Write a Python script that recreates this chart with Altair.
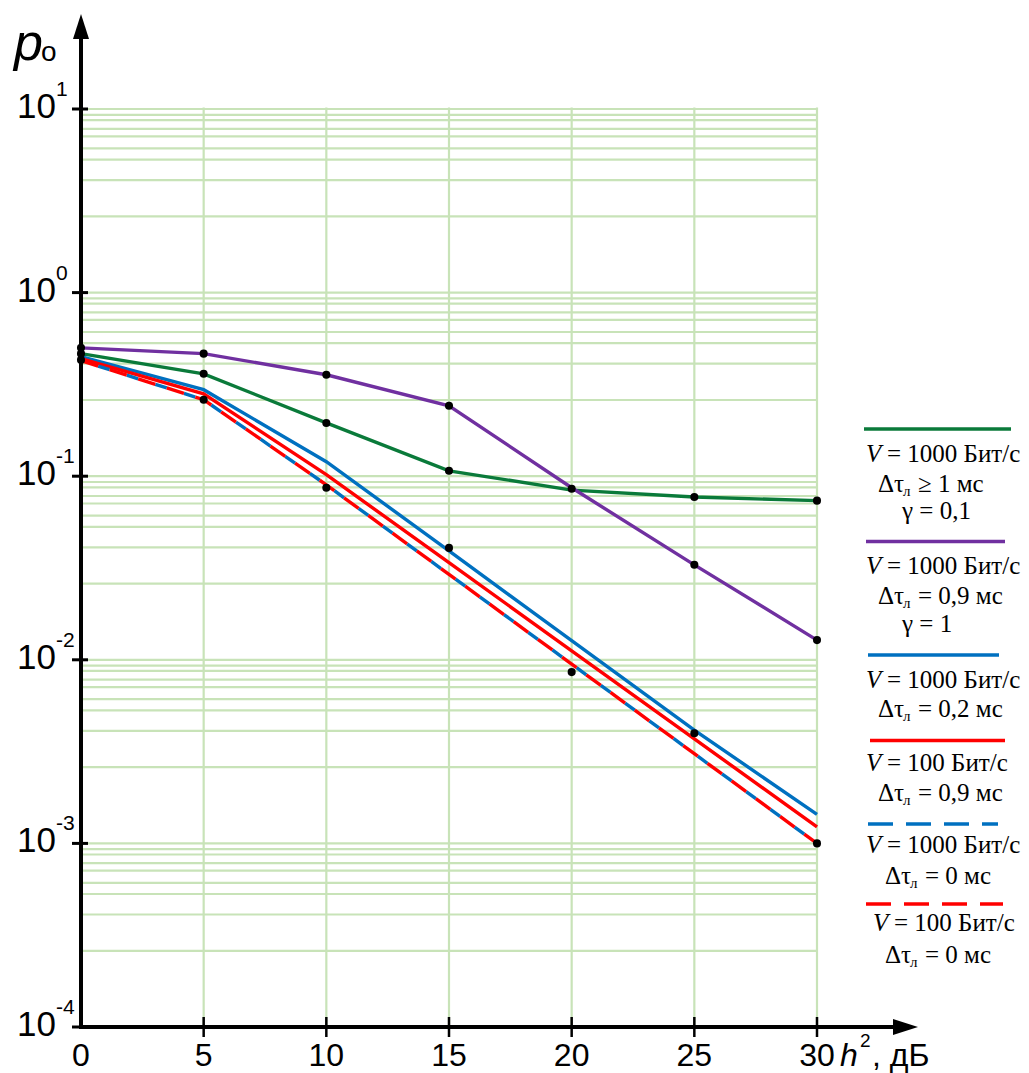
import altair as alt
import pandas as pd

# ---------------- data ----------------
h2 = [0, 5, 10, 15, 20, 25, 30]
green = [0.465, 0.361, 0.195, 0.107, 0.084, 0.077, 0.0736]
purple = [0.50, 0.465, 0.357, 0.242, 0.0865, 0.0329, 0.0128]
blue = [0.448, 0.296, 0.120, 0.0392, 0.0127, 0.00414, 0.00144]
red = [0.437, 0.281, 0.102, 0.0338, 0.0112, 0.00371, 0.00123]
blue_dash = [0.426, 0.261, 0.0897, 0.0292, 0.00948, 0.00308, 0.001]
red_dash = [0.426, 0.261, 0.0897, 0.0292, 0.00948, 0.00308, 0.001]

pts_x = [0, 0, 0, 5, 5, 5, 10, 10, 10, 15, 15, 15, 20, 20, 25, 25, 25, 30, 30, 30]
pts_y = [0.50, 0.465, 0.43, 0.465, 0.361, 0.261, 0.357, 0.195, 0.0865,
         0.242, 0.107, 0.0407, 0.0855, 0.00857, 0.077, 0.0329, 0.00398,
         0.0736, 0.0128, 0.001]

x_ticks = [0, 5, 10, 15, 20, 25, 30]
x_tick_labels = ["0", "5", "10", "15", "20", "25", "30"]
y_decades = [1e-4, 1e-3, 1e-2, 1e-1, 1e0, 1e1]
y_exponents = ["-4", "-3", "-2", "-1", "0", "1"]
grid_mult = [0.93, 0.87, 0.78, 0.71, 0.61, 0.53, 0.41, 0.26]

# ---------------- layout ----------------
OX, OY = 81, 109          # page position of plot origin
W, H = 736, 918
GRID = "#c8e3b8"
SANS = "Liberation Sans Narrow, Liberation Sans, sans-serif"
SERIF = "Liberation Serif, Times New Roman, serif"

xs = alt.Scale(domain=[0, 30], nice=False, zero=False)
ys = alt.Scale(type="log", domain=[1e-4, 10], nice=False)

def X(f="x"):
    return alt.X(f"{f}:Q", scale=xs, axis=None)

def Y(f="y"):
    return alt.Y(f"{f}:Q", scale=ys, axis=None)

one = pd.DataFrame({"a": [0]})

def txt(text, px, py, size, font=SANS, style="normal", align="left", color="black"):
    return alt.Chart(one).mark_text(
        text=text, font=font, fontSize=size, fontStyle=style, align=align,
        baseline="alphabetic", color=color
    ).encode(x=alt.value(px - OX), y=alt.value(py - OY))

layers = []

# grid
hgrid_vals = []
for d in y_decades[1:]:
    hgrid_vals += [d * m for m in grid_mult]
hgrid_vals += y_decades[1:]
hg = pd.DataFrame({"y": hgrid_vals, "x": 0, "x2": 30})
layers.append(alt.Chart(hg).mark_rule(color=GRID, strokeWidth=2.2).encode(
    x=X("x"), x2="x2:Q", y=Y("y")))
vg = pd.DataFrame({"x": x_ticks[1:], "y": 1e-4, "y2": 10.2})
layers.append(alt.Chart(vg).mark_rule(color=GRID, strokeWidth=2.2).encode(
    x=X("x"), y=Y("y"), y2="y2:Q"))

# series
def series(vals, color, dash=None, offset=0):
    df = pd.DataFrame({"x": h2, "y": vals})
    kw = dict(color=color, strokeWidth=3.4)
    if dash:
        kw["strokeDash"] = dash
        kw["strokeDashOffset"] = offset
    return alt.Chart(df).mark_line(**kw).encode(x=X(), y=Y())

C_GREEN, C_PURPLE, C_BLUE, C_RED = "#0a7a3a", "#7030a0", "#0070c0", "#ff0000"
layers += [
    series(green, C_GREEN),
    series(purple, C_PURPLE),
    series(blue, C_BLUE),
    series(red, C_RED),
    series(blue_dash, C_BLUE, [12, 18], 12),
    series(red_dash, C_RED, [18, 12], 0),
]

pts = pd.DataFrame({"x": pts_x, "y": pts_y})
layers.append(alt.Chart(pts).mark_circle(color="black", size=65, opacity=1).encode(
    x=X(), y=Y()))

# axes lines
layers.append(alt.Chart(one).mark_rule(color="black", strokeWidth=4).encode(
    x=alt.value(0), y=alt.value(H), y2=alt.value(30 - OY)))
layers.append(alt.Chart(one).mark_rule(color="black", strokeWidth=4).encode(
    y=alt.value(H), x=alt.value(-2), x2=alt.value(905 - OX)))
# arrowheads
layers.append(alt.Chart(one).mark_point(shape="M0,-1L0.64,1L-0.64,1Z", filled=True,
                                        color="black", size=625, opacity=1).encode(
    x=alt.value(0), y=alt.value(14 - OY + 12.5)))
layers.append(alt.Chart(one).mark_point(shape="M1,0L-1,-0.64L-1,0.64Z", filled=True,
                                        color="black", size=625, opacity=1).encode(
    x=alt.value(918 - OX - 12.5), y=alt.value(H)))

# ticks
yt = pd.DataFrame({"y": y_decades, "lab": ["10"] * 6, "exp": y_exponents})
layers.append(alt.Chart(yt).mark_rule(color="black", strokeWidth=3).encode(
    y=Y(), x=alt.value(-9), x2=alt.value(7)))
xt = pd.DataFrame({"x": x_ticks, "lab": x_tick_labels})
layers.append(alt.Chart(xt[xt.x > 0]).mark_rule(color="black", strokeWidth=2.5).encode(
    x=X(), y=alt.value(H - 10), y2=alt.value(H + 10)))

# tick labels
layers.append(alt.Chart(yt).mark_text(font=SANS, fontSize=35, align="right",
                                      baseline="alphabetic", dy=9).encode(
    y=Y(), x=alt.value(56 - OX), text="lab:N"))
layers.append(alt.Chart(yt).mark_text(font=SANS, fontSize=21, align="left",
                                      baseline="alphabetic", dy=-13).encode(
    y=Y(), x=alt.value(56 - OX), text="exp:N"))
layers.append(alt.Chart(xt).mark_text(font=SANS, fontSize=32, align="center",
                                      baseline="alphabetic").encode(
    x=X(), y=alt.value(1066 - OY), text="lab:N"))

# axis titles
layers += [
    txt("h", 840, 1066, 32, style="italic"),
    txt("2", 860, 1047, 19),
    txt(", дБ", 872, 1066, 32),
    txt("p", 14, 60, 52, font="Liberation Sans, sans-serif", style="italic"),
    txt("о", 41, 61, 28, font="Liberation Sans, sans-serif"),
]

# legend
def leg_line(y, x1, x2, color, dash=None):
    kw = dict(color=color, strokeWidth=3.4)
    if dash:
        kw["strokeDash"] = dash
    return alt.Chart(one).mark_rule(**kw).encode(
        x=alt.value(x1 - OX), x2=alt.value(x2 - OX), y=alt.value(y - OY))

def v_line(L, base, rest):
    return [txt("V", L, base, 25, font=SERIF, style="italic"),
            txt(rest, L + 21, base, 25, font=SERIF)]

def dt_line(L, base, rest):
    return [txt("Δτ", L, base, 25, font=SERIF),
            txt("л", L + 25, base + 4, 15, font=SERIF),
            txt(rest, L + 40, base, 25, font=SERIF)]

FS = 25
layers += [leg_line(429, 864, 1011, C_GREEN)]
layers += v_line(866, 462, "= 1000 Бит/с")
layers += dt_line(878, 492, "≥ 1 мс")
layers += [txt("γ = 0,1", 902, 519, FS, font=SERIF)]

layers += [leg_line(541.5, 866, 1005, C_PURPLE)]
layers += v_line(866, 574, "= 1000 Бит/с")
layers += dt_line(878, 604, "= 0,9 мс")
layers += [txt("γ = 1", 902, 632, FS, font=SERIF)]

layers += [leg_line(655, 868, 999, C_BLUE)]
layers += v_line(866, 688, "= 1000 Бит/с")
layers += dt_line(878, 717, "= 0,2 мс")

layers += [leg_line(740.5, 870, 1005, C_RED)]
layers += v_line(866, 771, "= 100 Бит/с")
layers += dt_line(878, 801, "= 0,9 мс")

layers += [leg_line(824, 868, 998, C_BLUE, [25, 13])]
layers += v_line(866, 853, "= 1000 Бит/с")
layers += dt_line(885, 884, "= 0 мс")

layers += [leg_line(904, 866, 1003, C_RED, [25, 13])]
layers += v_line(873, 931, "= 100 Бит/с")
layers += dt_line(885, 963, "= 0 мс")

chart = alt.layer(*layers).properties(
    width=W, height=H,
    autosize=alt.AutoSizeParams(type="none"),
    padding={"left": OX - 8, "top": OY - 8, "right": 1013 - (OX - 8) - W, "bottom": 50},
).configure_view(stroke=None).configure(background="white")

chart.save("out.html", embed_options={"renderer": "svg", "actions": False})
